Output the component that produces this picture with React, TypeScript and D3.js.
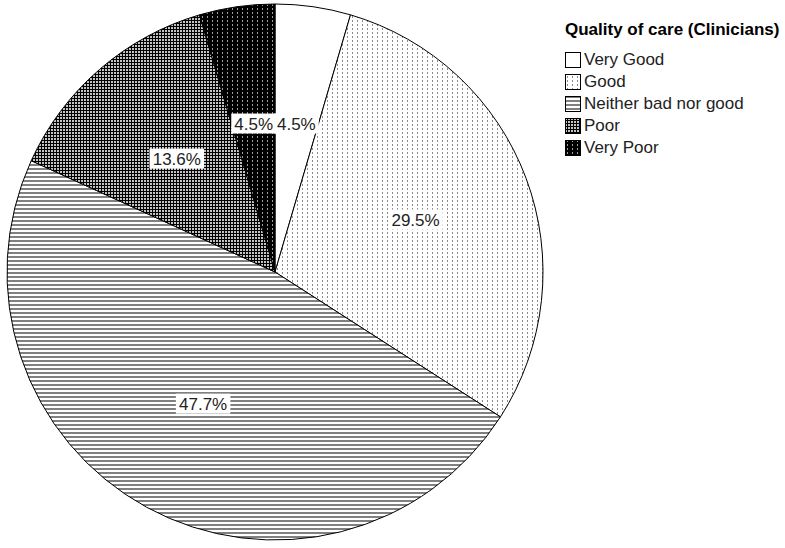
import React from "react";
import * as d3 from "d3";

const categories = ["Very Good", "Good", "Neither bad nor good", "Poor", "Very Poor"];
const counts = [2, 13, 21, 6, 2];
const percentLabels = ["4.5%", "29.5%", "47.7%", "13.6%", "4.5%"];
const legendTitle = "Quality of care (Clinicians)";
const patternIds = ["pVeryGood", "pGood", "pNeither", "pPoor", "pVeryPoor"];

const W = 785;
const H = 548;
const cx = 275;
const cy = 272;
const R = 268;
const labelR = 150;
const FONT = "'Liberation Sans', Arial, sans-serif";

export default function App() {
  const pie = d3
    .pie<number>()
    .sort(null)
    .value((d) => d);
  const arcs = pie(counts);
  const arcGen = d3.arc<d3.PieArcDatum<number>>().innerRadius(0).outerRadius(R);
  const labelArc = d3
    .arc<d3.PieArcDatum<number>>()
    .innerRadius(labelR)
    .outerRadius(labelR);

  const legendX = 565;
  const rowY = d3.scalePoint<number>().domain(d3.range(categories.length)).range([65, 153]);

  return (
    <svg
      width={W}
      height={H}
      style={{ position: "absolute", left: 0, top: 0, background: "#fff" }}
      fontFamily={FONT}
    >
      <defs>
        <pattern id="pVeryGood" width="4" height="4" patternUnits="userSpaceOnUse">
          <rect width="4" height="4" fill="#fff" />
        </pattern>
        <pattern id="pGood" width="5" height="4" patternUnits="userSpaceOnUse">
          <rect width="5" height="4" fill="#fff" />
          <rect x="2" y="0" width="1" height="2" fill="#8a8a8a" />
        </pattern>
        <pattern id="pNeither" width="4" height="4" patternUnits="userSpaceOnUse">
          <rect width="4" height="4" fill="#fff" />
          <rect x="0" y="0" width="4" height="2" fill="#808080" />
        </pattern>
        <pattern id="pPoor" width="3" height="3" patternUnits="userSpaceOnUse">
          <rect width="3" height="3" fill="#000" />
          <rect x="1" y="1" width="2" height="2" fill="#c4c4c4" />
        </pattern>
        <pattern id="pVeryPoor" width="5" height="4" patternUnits="userSpaceOnUse">
          <rect width="5" height="4" fill="#000" />
          <rect x="2" y="0" width="1" height="2" fill="#a0a0a0" />
        </pattern>
      </defs>

      <g transform={`translate(${cx},${cy})`}>
        {arcs.map((a, i) => (
          <path
            key={i}
            d={arcGen(a) || ""}
            fill={`url(#${patternIds[i]})`}
            stroke="#000"
            strokeWidth={1}
          />
        ))}
        {arcs.map((a, i) => {
          const [x, y] = labelArc.centroid(a);
          const txt = percentLabels[i];
          const w = txt.length * 9.7 + 6;
          return (
            <g key={"l" + i} transform={`translate(${x},${y})`}>
              <rect x={-w / 2} y={-10} width={w} height={20} fill="#fff" />
              <text textAnchor="middle" dy="0.36em" fontSize={17} fill="#222">
                {txt}
              </text>
            </g>
          );
        })}
      </g>

      <g>
        <text x={legendX} y={35} fontSize={17} fontWeight="bold" fill="#000">
          {legendTitle}
        </text>
        {categories.map((c, i) => {
          const y = rowY(i) as number;
          return (
            <g key={c}>
              <rect
                x={legendX + 0.5}
                y={y - 12.5}
                width={15}
                height={15}
                fill={`url(#${patternIds[i]})`}
                stroke="#000"
                strokeWidth={1}
              />
              <text x={legendX + 19} y={y} fontSize={17} fill="#222">
                {c}
              </text>
            </g>
          );
        })}
      </g>
    </svg>
  );
}
